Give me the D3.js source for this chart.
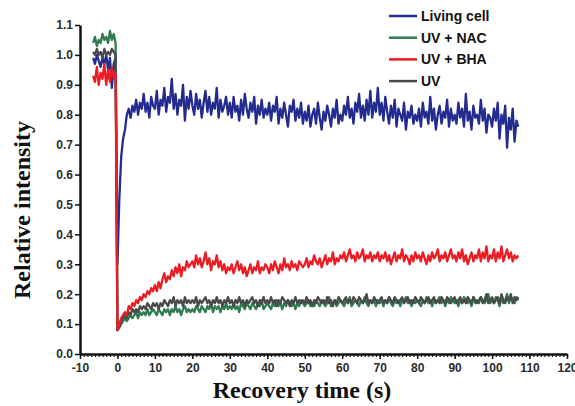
<!DOCTYPE html>
<html>
<head>
<meta charset="utf-8">
<script src="https://cdn.jsdelivr.net/npm/d3@7"></script>
<style>
  body { margin: 0; background: #fff; }
  svg { display: block; }
  .tick text { font-family: Arial, "Liberation Sans", sans-serif; font-weight: bold; font-size: 12px; fill: #2b2b2b; }
  .axis-title { font-family: "Times New Roman", "Liberation Serif", serif; font-weight: bold; font-size: 24px; fill: #111; }
  .legend text { font-family: Arial, "Liberation Sans", sans-serif; font-weight: bold; font-size: 14px; fill: #111; }
</style>
</head>
<body>
<svg width="575" height="406"></svg>
<script>
// sample times (s): before bleach and after
var preTimes = d3.range(-6.5, 0, 0.5);
var postTimes = d3.range(0, 107.01, 0.5);

// Before bleach
var livingPre = [0.99,0.97,1.00,0.98,0.96,0.99,0.97,1.00,0.95,0.99,0.89,0.97,0.99];
var nacPre    = [1.04,1.06,1.03,1.05,1.04,1.07,1.05,1.06,1.04,1.08,1.05,1.07,1.04];
var bhaPre    = [0.93,0.91,0.96,0.90,0.94,0.92,0.97,0.90,0.95,0.91,0.96,0.92,0.94];
var uvPre     = [1.01,1.00,1.02,1.00,1.01,0.99,1.02,1.00,1.01,1.00,1.02,1.01,1.00];

// After bleach, every 0.5 s
var livingPost = [
  0.30,0.52,0.66,0.72,0.75,0.80,0.82,0.79,0.83,0.81,0.85,0.80,0.84,0.82,0.87,0.81,0.84,0.79,0.86,0.83,
  0.82,0.88,0.80,0.85,0.83,0.89,0.81,0.86,0.84,0.92,0.82,0.87,0.80,0.85,0.83,0.90,0.78,0.86,0.82,0.88,
  0.83,0.80,0.87,0.82,0.85,0.79,0.84,0.88,0.81,0.86,0.80,0.84,0.82,0.89,0.79,0.85,0.81,0.83,0.86,0.80,
  0.84,0.79,0.86,0.81,0.83,0.78,0.85,0.80,0.87,0.82,0.79,0.84,0.81,0.86,0.77,0.83,0.80,0.85,0.79,0.82,
  0.80,0.84,0.78,0.83,0.81,0.86,0.77,0.82,0.79,0.84,0.80,0.76,0.83,0.81,0.85,0.78,0.82,0.79,0.84,0.77,
  0.81,0.78,0.83,0.76,0.80,0.82,0.77,0.84,0.79,0.75,0.81,0.78,0.83,0.80,0.76,0.82,0.79,0.85,0.77,0.80,
  0.78,0.83,0.80,0.86,0.79,0.82,0.77,0.84,0.81,0.87,0.79,0.83,0.78,0.85,0.80,0.88,0.79,0.84,0.81,0.89,
  0.80,0.84,0.78,0.86,0.81,0.77,0.83,0.79,0.85,0.76,0.82,0.80,0.78,0.84,0.75,0.81,0.79,0.83,0.77,0.80,
  0.78,0.82,0.76,0.84,0.79,0.81,0.77,0.86,0.78,0.82,0.75,0.80,0.83,0.77,0.81,0.79,0.85,0.76,0.82,0.78,
  0.80,0.77,0.84,0.79,0.82,0.76,0.87,0.78,0.81,0.75,0.83,0.79,0.80,0.77,0.85,0.78,0.82,0.74,0.80,0.79,
  0.76,0.82,0.78,0.84,0.72,0.80,0.77,0.83,0.69,0.79,0.75,0.82,0.71,0.78,0.76];

var nacPost = [
  0.08,0.09,0.10,0.11,0.12,0.11,0.12,0.13,0.12,0.13,0.14,0.12,0.14,0.13,0.14,0.13,0.15,0.13,0.14,0.15,
  0.14,0.13,0.15,0.14,0.13,0.15,0.14,0.15,0.13,0.15,0.14,0.16,0.14,0.15,0.13,0.15,0.16,0.14,0.15,0.14,
  0.15,0.14,0.16,0.15,0.14,0.16,0.15,0.14,0.16,0.15,0.17,0.14,0.16,0.15,0.16,0.14,0.16,0.15,0.17,0.15,
  0.16,0.15,0.17,0.15,0.16,0.14,0.17,0.16,0.15,0.17,0.16,0.15,0.17,0.16,0.15,0.17,0.16,0.18,0.15,0.16,
  0.17,0.16,0.15,0.17,0.16,0.18,0.16,0.17,0.15,0.17,0.16,0.18,0.17,0.16,0.17,0.15,0.17,0.16,0.18,0.17,
  0.16,0.17,0.18,0.16,0.17,0.16,0.18,0.17,0.16,0.18,0.17,0.16,0.17,0.19,0.16,0.17,0.18,0.16,0.17,0.18,
  0.17,0.16,0.18,0.17,0.19,0.16,0.17,0.18,0.17,0.16,0.18,0.17,0.19,0.17,0.16,0.18,0.17,0.18,0.16,0.18,
  0.17,0.18,0.16,0.18,0.17,0.19,0.17,0.16,0.18,0.17,0.18,0.16,0.18,0.17,0.19,0.17,0.18,0.16,0.18,0.17,
  0.18,0.17,0.16,0.18,0.17,0.19,0.17,0.18,0.16,0.18,0.17,0.18,0.19,0.17,0.18,0.16,0.18,0.17,0.19,0.18,
  0.17,0.18,0.16,0.18,0.17,0.19,0.18,0.17,0.18,0.16,0.19,0.17,0.18,0.17,0.19,0.18,0.17,0.18,0.20,0.17,
  0.18,0.17,0.19,0.18,0.16,0.19,0.17,0.18,0.20,0.17,0.19,0.18,0.17,0.19,0.18];

var bhaPost = [
  0.08,0.10,0.12,0.13,0.14,0.13,0.16,0.15,0.17,0.16,0.18,0.17,0.19,0.18,0.20,0.19,0.21,0.20,0.22,0.21,
  0.23,0.21,0.24,0.22,0.25,0.27,0.24,0.26,0.25,0.28,0.26,0.29,0.27,0.30,0.26,0.29,0.28,0.31,0.29,0.30,
  0.31,0.29,0.33,0.30,0.32,0.29,0.31,0.34,0.30,0.32,0.28,0.31,0.30,0.33,0.29,0.31,0.28,0.30,0.27,0.29,
  0.28,0.30,0.27,0.29,0.31,0.28,0.30,0.27,0.29,0.26,0.28,0.30,0.27,0.29,0.28,0.31,0.27,0.29,0.28,0.30,
  0.29,0.27,0.30,0.28,0.31,0.29,0.27,0.30,0.28,0.32,0.29,0.30,0.28,0.31,0.29,0.30,0.28,0.31,0.30,0.29,
  0.30,0.32,0.29,0.31,0.30,0.33,0.31,0.30,0.32,0.29,0.31,0.33,0.30,0.32,0.31,0.34,0.30,0.32,0.31,0.33,
  0.32,0.34,0.31,0.33,0.35,0.32,0.33,0.31,0.34,0.32,0.33,0.35,0.31,0.33,0.32,0.34,0.31,0.33,0.32,0.34,
  0.31,0.33,0.32,0.34,0.31,0.33,0.30,0.32,0.34,0.31,0.33,0.32,0.35,0.31,0.33,0.32,0.30,0.33,0.31,0.34,
  0.32,0.33,0.31,0.34,0.32,0.30,0.33,0.31,0.34,0.32,0.33,0.35,0.31,0.33,0.32,0.34,0.31,0.33,0.35,0.32,
  0.33,0.31,0.34,0.32,0.35,0.31,0.33,0.30,0.32,0.34,0.31,0.33,0.32,0.35,0.31,0.34,0.32,0.36,0.31,0.33,
  0.32,0.35,0.31,0.34,0.32,0.36,0.31,0.33,0.35,0.32,0.34,0.31,0.33,0.32,0.33];

var uvPost = [
  0.08,0.09,0.11,0.12,0.13,0.12,0.14,0.13,0.15,0.14,0.15,0.14,0.16,0.15,0.16,0.15,0.17,0.16,0.15,0.17,
  0.16,0.17,0.15,0.17,0.16,0.18,0.17,0.16,0.18,0.17,0.19,0.16,0.18,0.17,0.18,0.16,0.19,0.17,0.18,0.17,
  0.18,0.17,0.19,0.16,0.18,0.17,0.18,0.19,0.17,0.18,0.16,0.18,0.17,0.19,0.17,0.18,0.16,0.18,0.17,0.19,
  0.17,0.18,0.16,0.18,0.17,0.19,0.17,0.18,0.16,0.18,0.17,0.18,0.19,0.17,0.18,0.16,0.18,0.17,0.19,0.17,
  0.18,0.17,0.19,0.17,0.18,0.16,0.18,0.17,0.19,0.18,0.17,0.18,0.16,0.18,0.17,0.19,0.17,0.18,0.17,0.18,
  0.17,0.19,0.17,0.18,0.16,0.18,0.17,0.19,0.18,0.17,0.18,0.17,0.19,0.17,0.18,0.16,0.18,0.17,0.19,0.18,
  0.17,0.18,0.19,0.17,0.18,0.17,0.19,0.18,0.17,0.19,0.18,0.17,0.18,0.20,0.17,0.18,0.17,0.19,0.18,0.17,
  0.18,0.19,0.17,0.18,0.17,0.19,0.18,0.17,0.19,0.18,0.17,0.18,0.19,0.17,0.18,0.19,0.17,0.18,0.17,0.19,
  0.18,0.17,0.19,0.18,0.17,0.18,0.19,0.17,0.18,0.19,0.17,0.18,0.17,0.19,0.18,0.17,0.19,0.18,0.17,0.18,
  0.19,0.17,0.18,0.19,0.17,0.18,0.17,0.19,0.18,0.17,0.19,0.18,0.17,0.18,0.19,0.17,0.18,0.20,0.17,0.18,
  0.19,0.17,0.18,0.19,0.17,0.20,0.18,0.17,0.19,0.18,0.20,0.17,0.19,0.18,0.19];

var seriesNames = ["Living cell", "UV + NAC", "UV + BHA", "UV"];
var colours = {
  "Living cell": "#232c8e",
  "UV + NAC": "#2f7b52",
  "UV + BHA": "#ec1c24",
  "UV": "#4a4a4a"
};

var times = preTimes.concat(postTimes);
var series = {
  "Living cell": livingPre.concat(livingPost),
  "UV + NAC": nacPre.concat(nacPost),
  "UV + BHA": bhaPre.concat(bhaPost),
  "UV": uvPre.concat(uvPost)
};

var svg = d3.select("svg");

var xScale = d3.scaleLinear().domain([-10, 120]).range([80, 567]);
var yScale = d3.scaleLinear().domain([0, 1.1]).range([354, 25]);

// **** lines ****
var line = d3.line()
    .x(function(d, i) { return xScale(times[i]); })
    .y(function(d) { return yScale(d); });

var drawOrder = ["Living cell", "UV + NAC", "UV", "UV + BHA"];
svg.append("g").selectAll("path")
    .data(drawOrder)
    .enter()
    .append("path")
    .attr("d", function(d) { return line(series[d]); })
    .attr("fill", "none")
    .attr("stroke", function(d) { return colours[d]; })
    .attr("stroke-width", 2.3)
    .attr("stroke-linejoin", "round");

// **** axes ****
var xMinor = svg.append("g")
    .attr("transform", "translate(0,354)")
    .call(d3.axisBottom(xScale).tickValues(d3.range(-10, 121, 1)).tickSize(3).tickFormat(""));
xMinor.select(".domain").remove();
xMinor.selectAll("line").attr("stroke", "#111").attr("stroke-width", 1.2);

var xAxis = svg.append("g")
    .attr("transform", "translate(0,354)")
    .call(d3.axisBottom(xScale).tickValues(d3.range(-10, 121, 10))
        .tickFormat(function(d) { return String(d); })
        .tickSize(5).tickPadding(4).tickSizeOuter(0));
xAxis.select(".domain").attr("stroke", "#111").attr("stroke-width", 2.5);
xAxis.selectAll(".tick line").attr("stroke", "#111").attr("stroke-width", 1.5);

var yAxis = svg.append("g")
    .attr("transform", "translate(80,0)")
    .call(d3.axisLeft(yScale).tickValues(d3.range(0, 12).map(function(d) { return d / 10; }))
        .tickFormat(d3.format(".1f")).tickSize(5).tickPadding(2).tickSizeOuter(0));
yAxis.select(".domain").attr("stroke", "#111").attr("stroke-width", 2.5);
yAxis.selectAll(".tick line").attr("stroke", "#111").attr("stroke-width", 1.5);

svg.append("text")
    .attr("class", "axis-title")
    .attr("text-anchor", "middle")
    .attr("transform", "translate(30,210) rotate(-90)")
    .text("Relative intensity");

svg.append("text")
    .attr("class", "axis-title")
    .attr("text-anchor", "middle")
    .attr("x", 302)
    .attr("y", 398)
    .text("Recovery time (s)");

// **** legend ****
var legend = svg.append("g")
    .attr("class", "legend")
    .attr("transform", "translate(389,16)");

var legendItem = legend.selectAll("g")
    .data(seriesNames)
    .enter()
    .append("g")
    .attr("transform", function(d, i) { return "translate(0," + (i * 21.7) + ")"; });

legendItem.append("line")
    .attr("x1", 0).attr("x2", 28)
    .attr("stroke", function(d) { return colours[d]; })
    .attr("stroke-width", 2.5);

legendItem.append("text")
    .attr("x", 32)
    .attr("y", 5)
    .text(function(d) { return d; });
</script>
</body>
</html>
